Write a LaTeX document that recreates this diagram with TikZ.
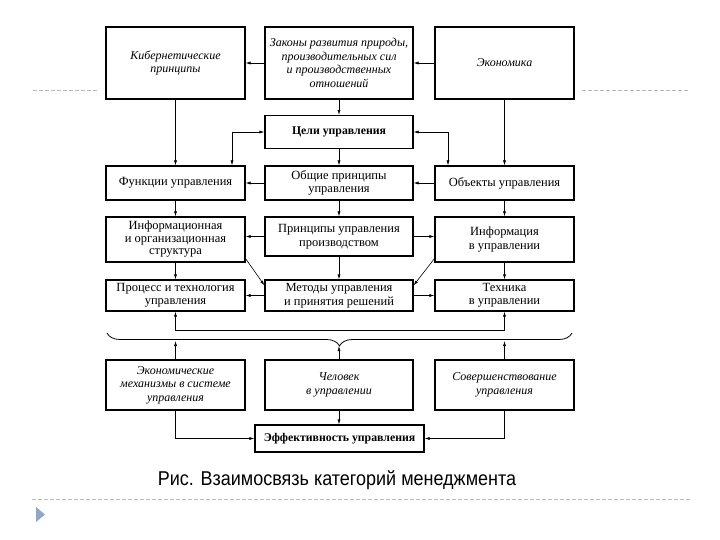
\documentclass[tikz,border=0pt]{standalone}
\usepackage{fontspec}
\setmainfont{Liberation Serif}
\newfontfamily\capfont[FakeStretch = 0.9]{Liberation Sans}
\usepackage{tikz}
\usetikzlibrary{arrows.meta}
\usetikzlibrary{decorations.pathreplacing}
\definecolor{triblue}{HTML}{8EA8C8}
\tikzset{>={Latex[length=5pt, width=3pt]}}
\tikzstyle{box} = [draw = black, line width = 1.1pt, align = center, inner sep = 0, font = \fontsize{12.5}{13.5}\selectfont]
\tikzstyle{ital} = [font = \fontsize{12}{13.5}\selectfont\itshape]
\tikzstyle{bold} = [font = \fontsize{11.8}{13.5}\selectfont\bfseries]
\tikzstyle{link} = [->, line width = 0.6pt]
\tikzstyle{deco} = [gray!55, line width = 0.6pt, dash pattern = on 4pt off 2pt]

\begin{document}
\begin{tikzpicture}[x = 1pt, y = -1pt]
\useasboundingbox (0, 0) rectangle (720, 540);
% row 1
\node [box, ital, minimum width = 139, minimum height = 72] (Kib) at (175.5, 63) {Кибернетические\\принципы};
\node [box, ital, minimum width = 148, minimum height = 72] (Zak) at (339, 63) {Законы развития природы,\\производительных сил\\и производственных\\отношений};
\node [box, ital, minimum width = 139, minimum height = 72] (Eko) at (504.5, 63) {Экономика};
% row 2
\node [box, bold, minimum width = 148, minimum height = 33] (Cel) at (339, 132) {Цели управления};
% row 3
\node [box, minimum width = 139, minimum height = 34] (Fun) at (175.5, 183) {Функции управления};
\node [box, minimum width = 148, minimum height = 34] (Obs) at (339, 183) {Общие принципы\\управления};
\node [box, minimum width = 139, minimum height = 34] (Obj) at (504.5, 183) {Объекты управления};
% row 4
\node [box, minimum width = 139, minimum height = 45, font = \fontsize{12.5}{12.5}\selectfont] (Inf) at (175.5, 239.5) {Информационная\\и организационная\\структура};
\node [box, minimum width = 148, minimum height = 39] (Pri) at (339, 236.5) {Принципы управления\\производством};
\node [box, minimum width = 139, minimum height = 45] (Ifm) at (504.5, 239.5) {Информация\\в управлении};
% row 5
\node [box, minimum width = 139, minimum height = 31] (Pro) at (175.5, 295.5) {Процесс и технология\\управления};
\node [box, minimum width = 148, minimum height = 31] (Met) at (339, 295.5) {Методы управления\\и принятия решений};
\node [box, minimum width = 139, minimum height = 31] (Tec) at (504.5, 295.5) {Техника\\в управлении};
% row 6
\node [box, ital, minimum width = 139, minimum height = 50] (Eco) at (175.5, 385) {Экономические\\механизмы в системе\\управления};
\node [box, ital, minimum width = 148, minimum height = 50] (Man) at (339, 385) {Человек\\в управлении};
\node [box, ital, minimum width = 139, minimum height = 50] (Sov) at (504.5, 385) {Совершенствование\\управления};
\node [box, bold, minimum width = 169, minimum height = 27] (Eff) at (339.5, 438.5) {Эффективность управления};
% caption
\node [font = \capfont\fontsize{20}{22}\selectfont] (cap) at (337, 480) {Рис. Взаимосвязь категорий менеджмента};
\coordinate (busL) at (175.5, 330);
\coordinate (busR) at (504.5, 330);
\coordinate (tipL) at (175.5, 341);
\coordinate (tipC) at (339, 346);
\coordinate (tipR) at (504.5, 341);

\draw [link] (Zak) to (Kib);
\draw [link] (Eko) to (Zak);
\draw [link] (Zak) to (Cel);
\draw [link] (Kib) to (Fun);
\draw [link] (Eko) to (Obj);
\draw [link, <->] (Cel.west) -| ([xshift = 56.5pt]Fun.north);
\draw [link, <->] (Cel.east) -| ([xshift = -56.5pt]Obj.north);
\draw [link] (Cel) to (Obs);
\draw [link] (Obs) to (Fun);
\draw [link] (Obj) to (Obs);
\draw [link] (Fun) to (Inf);
\draw [link] (Obs) to (Pri);
\draw [link] (Obj) to (Ifm);
\draw [link] (Pri.west) to (Inf.east |- Pri.west);
\draw [link] (Pri.east) to (Ifm.west |- Pri.east);
\draw [link] ([yshift = 4pt]Inf.south east) to ([yshift = -6pt]Met.north west);
\draw [link] ([yshift = 4pt]Ifm.south west) to ([yshift = -6pt]Met.north east);
\draw [link] (Pri) to (Met);
\draw [link] (Inf) to (Pro);
\draw [link] (Ifm) to (Tec);
\draw [link] (Met) to (Pro);
\draw [link] (Met) to (Tec);
\draw [link, <->] (Pro.south) -- (busL) -- (busR) -- (Tec.south);
\draw [decorate, decoration = {brace, amplitude = 13pt}, line width = 0.8pt] (572, 333) -- (107, 333);
\draw [link] (Eco) to (tipL);
\draw [link] (Man) to (tipC);
\draw [link] (Sov) to (tipR);
\draw [link] (Man.south) to (Man.south |- Eff.north);
\draw [link] (Eco.south) |- (Eff.west);
\draw [link] (Sov.south) |- (Eff.east);
% slide decorations
\draw [deco] (33, 90) -- (98, 90);
\draw [deco] (582, 90) -- (688, 90);
\draw [deco] (32, 499) -- (690, 499);
\fill [triblue] (36, 507) -- (45, 514.5) -- (36, 522) -- cycle;
\end{tikzpicture}
\end{document}
